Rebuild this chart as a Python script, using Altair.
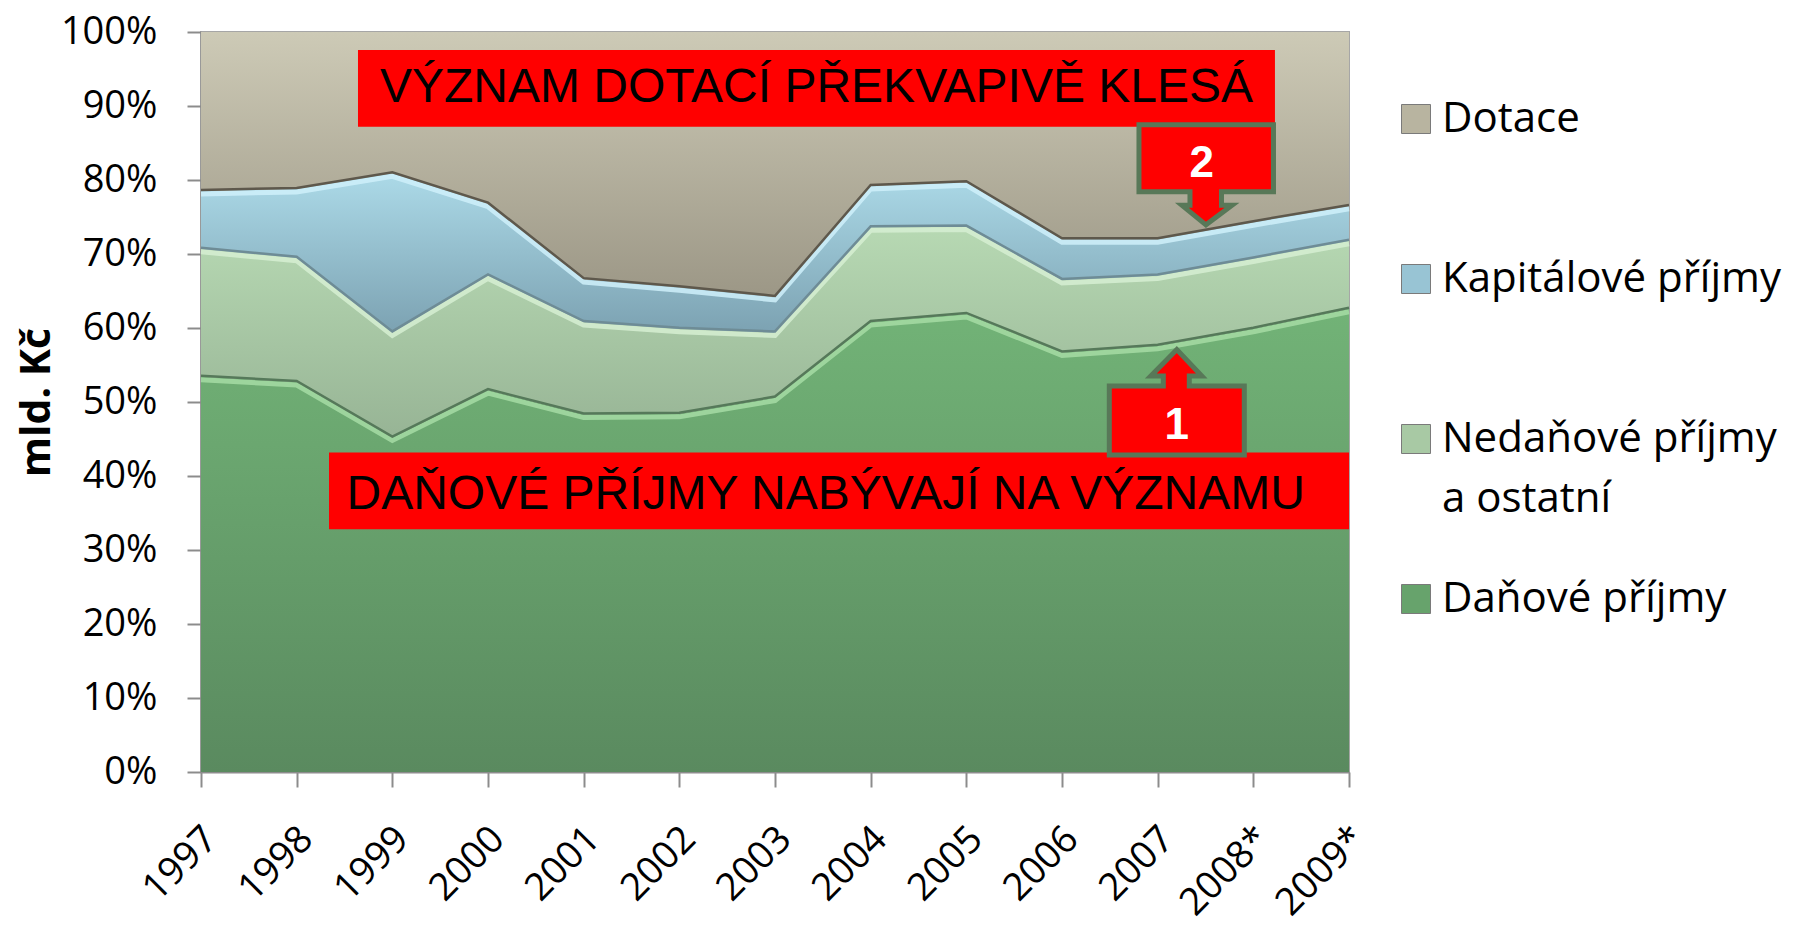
import json
import altair as alt
import pandas as pd

# ---------------- data (shares in %) ----------------
years = ["1997", "1998", "1999", "2000", "2001", "2002", "2003",
         "2004", "2005", "2006", "2007", "2008*", "2009*"]
danove = [53.4, 52.7, 45.2, 51.6, 48.3, 48.4, 50.6, 60.8, 61.9, 56.7, 57.6, 59.9, 62.6]
nedanove = [17.3, 16.8, 14.2, 15.5, 12.5, 11.5, 8.8, 12.8, 11.8, 9.8, 9.5, 9.5, 9.2]
kapitalove = [7.8, 9.3, 21.5, 9.7, 5.8, 5.6, 4.8, 5.6, 6.0, 5.5, 4.9, 4.9, 4.7]
dotace = [21.5, 21.2, 19.1, 23.2, 33.4, 34.5, 35.8, 20.8, 20.3, 28.0, 28.0, 25.7, 23.5]

series_names = ["Daňové příjmy", "Nedaňové příjmy a ostatní", "Kapitálové příjmy", "Dotace"]
series_values = [danove, nedanove, kapitalove, dotace]
legend_order = ["Dotace", "Kapitálové příjmy", "Nedaňové příjmy a ostatní", "Daňové příjmy"]
legend_colors = ["#b8b4a0", "#98c4d4", "#a8c9a4", "#67a36c"]

# ---------------- long table with stacked bounds ----------------
rows = []
for i, y in enumerate(years):
    total = sum(v[i] for v in series_values)
    cum = 0.0
    for name, vals in zip(series_names, series_values):
        share = vals[i] / total
        rows.append({"idx": i, "year": y, "series": name, "value": share,
                     "lo": cum, "hi": cum + share})
        cum += share
df = pd.DataFrame(rows)

x_enc = alt.X(
    "idx:Q",
    scale=alt.Scale(domain=[0, len(years) - 1], nice=False, zero=False),
    axis=alt.Axis(
        values=list(range(len(years))),
        labelExpr=f"{json.dumps(years)}[datum.value]",
        labelAngle=-45, labelAlign="right", labelBaseline="middle",
        labelFont="Open Sans", labelFontSize=38, labelColor="#000000",
        labelPadding=46, labelOffset=10, labelOverlap=False, labelBound=False,
        tickSize=15, tickColor="#8c8c8c", tickWidth=2,
        domainColor="#8c8c8c", domainWidth=2, grid=False, title=None,
    ),
)
y_enc = alt.Y(
    "hi:Q",
    scale=alt.Scale(domain=[0, 1], nice=False),
    axis=alt.Axis(
        values=[i / 10 for i in range(11)], format=".0%",
        labelFont="Open Sans", labelFontSize=38, labelColor="#000000",
        labelPadding=30, tickSize=14, tickColor="#8c8c8c", tickWidth=2,
        domainColor="#8c8c8c", domainWidth=2, grid=False,
        title="mld. Kč", titleFont="Open Sans", titleFontSize=41,
        titleFontWeight="bold", titleColor="#000000",
        titleX=-143, titleY=370, titleAngle=-90, titleBaseline="bottom",
    ),
)

base = alt.Chart(df)

gradients = {
    "Daňové příjmy": ["#72b377", "#5a8a5f"],
    "Nedaňové příjmy a ostatní": ["#b7d9b3", "#97b495"],
    "Kapitálové příjmy": ["#acdae8", "#7ca2b2"],
    "Dotace": ["#cdcab6", "#9c9786"],
}
edges = {
    "Daňové příjmy": ["#56795a", "#a6dca4"],
    "Nedaňové příjmy a ostatní": ["#6e8c96", "#d6eed2"],
    "Kapitálové příjmy": ["#5e584c", "#cff0fa"],
}

# ---------------- annotations (data coordinates) ----------------
boxes = pd.DataFrame({
    "x1": [1.641, 1.338], "x2": [11.226, 12.0],
    "y1": [0.9757, 0.4318], "y2": [0.8718, 0.3279],
    "tx": [6.434, 6.53], "ty": [0.925, 0.375],
    "text": ["VÝZNAM DOTACÍ PŘEKVAPIVĚ KLESÁ", "DAŇOVÉ PŘÍJMY NABÝVAJÍ NA VÝZNAMU"],
})
arrow_down = ("M -0.67 -0.5 L 0.675 -0.5 L 0.675 0.17 L 0.155 0.17 L 0.155 0.305 "
              "L 0.26 0.305 L 0 0.5 L -0.24 0.305 L -0.16 0.305 L -0.16 0.17 L -0.67 0.17 Z")
arrow_up = ("M -0.675 -0.145 L -0.135 -0.145 L -0.135 -0.245 L -0.26 -0.245 L 0 -0.51 "
            "L 0.25 -0.245 L 0.125 -0.245 L 0.125 -0.145 L 0.675 -0.145 L 0.675 0.545 "
            "L -0.675 0.545 Z")
callouts = pd.DataFrame({
    "cx": [10.505, 10.20], "cy": [0.807, 0.502],
    "shape": [arrow_down, arrow_up],
    "nx": [10.46, 10.20], "ny": [0.822, 0.467],
    "label": ["2", "1"],
})


def build(row_padding, with_style):
    legend_layer = base.mark_area(opacity=1).encode(
        x=x_enc, y=y_enc, y2="lo:Q",
        color=alt.Color(
            "series:N",
            scale=alt.Scale(domain=legend_order, range=legend_colors),
            legend=alt.Legend(
                title=None, orient="none", legendX=1194, legendY=66,
                symbolType="square", symbolSize=841, symbolStrokeColor="#7a7a7a",
                symbolStrokeWidth=1, symbolOpacity=1,
                labelFont="Open Sans", labelFontSize=42, labelColor="#000000",
                labelOffset=5, labelLimit=400, gridAlign="all", padding=0,
                rowPadding=row_padding,
                labelExpr="datum.label == 'Nedaňové příjmy a ostatní' ? ['Nedaňové příjmy', 'a ostatní'] : datum.label",
            ),
        ),
    )
    layers = [legend_layer]
    for name in series_names:
        top, bottom = gradients[name]
        layers.append(
            base.transform_filter(alt.datum.series == name).mark_area(
                opacity=1,
                color=alt.Gradient(
                    gradient="linear",
                    stops=[alt.GradientStop(color=top, offset=0),
                           alt.GradientStop(color=bottom, offset=1)],
                    x1=0, x2=0, y1=0, y2=1,
                ),
            ).encode(x=x_enc, y=y_enc, y2="lo:Q")
        )
    for name, (shadow, light) in edges.items():
        sub = base.transform_filter(alt.datum.series == name)
        layers.append(sub.mark_line(color=light, strokeWidth=5, yOffset=3, opacity=0.85)
                      .encode(x=x_enc, y=y_enc))
        layers.append(sub.mark_line(color=shadow, strokeWidth=2.5, yOffset=-1)
                      .encode(x=x_enc, y=y_enc))

    xs = alt.Scale(domain=[0, 12], nice=False)
    ys = alt.Scale(domain=[0, 1], nice=False)
    box_layer = alt.Chart(boxes).mark_rect(color="#ff0000", opacity=1).encode(
        x=alt.X("x1:Q", scale=xs), x2="x2:Q", y=alt.Y("y1:Q", scale=ys), y2="y2:Q",
    )
    box_text = alt.Chart(boxes).mark_text(
        font="Liberation Sans", fontSize=48, color="#000000", align="center", baseline="middle"
    ).encode(x=alt.X("tx:Q", scale=xs), y=alt.Y("ty:Q", scale=ys), text="text:N")
    callout_layer = alt.Chart(callouts).mark_point(
        filled=True, fill="#ff0000", stroke="#587858", strokeWidth=5, size=40000,
        opacity=1, fillOpacity=1, strokeOpacity=1,
    ).encode(
        x=alt.X("cx:Q", scale=xs), y=alt.Y("cy:Q", scale=ys),
        shape=alt.Shape("shape:N", scale=None, legend=None),
    )
    callout_text = alt.Chart(callouts).mark_text(
        font="Liberation Sans", fontSize=44, fontWeight="bold", color="#ffffff",
        align="center", baseline="middle",
    ).encode(x=alt.X("nx:Q", scale=xs), y=alt.Y("ny:Q", scale=ys), text="label:N")
    layers += [box_layer, box_text, callout_layer, callout_text]

    config = {"view": {"stroke": "#a6a6a6", "strokeWidth": 2}}
    if with_style:
        config["style"] = {"guide-label": {"lineHeight": 60}}
    return alt.layer(*layers, config=config).properties(
        width=1148, height=740,
        autosize=alt.AutoSizeParams(type="none"),
        padding={"left": 201, "top": 32, "right": 444, "bottom": 162},
        background="#ffffff",
    )


try:
    chart = build(58, True)
    chart.to_dict()
except Exception:
    chart = build(75, False)

chart.save("out.html", embed_options={"renderer": "svg", "actions": False})
